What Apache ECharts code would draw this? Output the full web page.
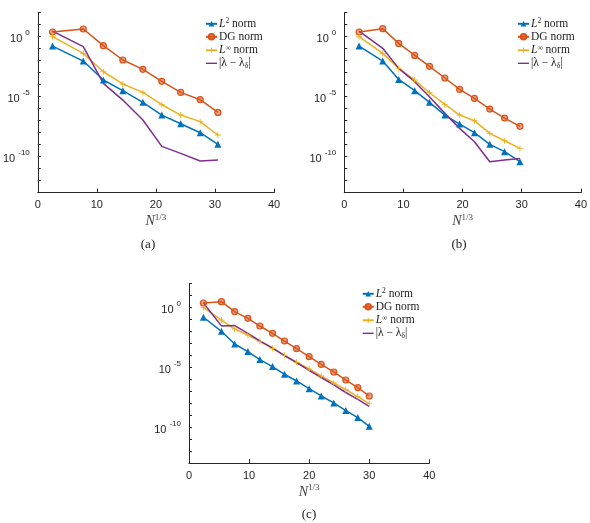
<!DOCTYPE html>
<html><head><meta charset="utf-8">
<script src="https://cdn.jsdelivr.net/npm/echarts@6/dist/echarts.min.js"></script>
<style>html,body{margin:0;padding:0;background:#fff}#c{width:590px;height:523px}</style>
</head><body><div id="c"></div>
<script>
// ---- data (y values are log10 of the error) ----
// panel (a)
const xA     = [2.5, 7.7, 11.1, 14.4, 17.8, 21.0, 24.2, 27.5, 30.5];
const A_L2   = [-0.78, -2.03, -3.61, -4.5, -5.47, -6.53, -7.25, -8.0, -8.97];
const A_DG   = [0.39, 0.64, -0.75, -1.94, -2.72, -3.72, -4.64, -5.25, -6.31];
const A_Linf = [0, -1.39, -2.92, -3.94, -4.64, -5.67, -6.53, -7.08, -8.19];
const A_lam  = [0.47, -0.83, -3.89, -5.28, -6.94, -9.14, -9.72, -10.36, -10.28];
// panel (b)
const xB     = [2.5, 6.5, 9.2, 11.9, 14.4, 17.0, 19.5, 22.0, 24.6, 27.1, 29.7];
const B_L2   = [-0.78, -2.03, -3.56, -4.5, -5.47, -6.53, -7.28, -8.0, -8.97, -9.58, -10.42];
const B_DG   = [0.39, 0.67, -0.56, -1.56, -2.47, -3.44, -4.39, -5.14, -6.03, -6.78, -7.47];
const B_Linf = [0, -1.39, -2.64, -3.61, -4.67, -5.64, -6.53, -7.0, -8.06, -8.67, -9.31];
const B_lam  = [0.47, -0.97, -2.64, -3.75, -5.0, -6.39, -7.64, -8.75, -10.42, -10.28, -10.14];
// panel (c)
const xC     = [2.4, 5.4, 7.6, 9.8, 11.8, 13.9, 15.9, 17.9, 20.0, 22.0, 24.1, 26.1, 28.1, 30.0];
const C_L2   = [-0.83, -2.0, -3.06, -3.69, -4.36, -4.94, -5.58, -6.14, -6.78, -7.39, -7.97, -8.61, -9.19, -9.92];
const C_DG   = [0.36, 0.47, -0.36, -0.92, -1.56, -2.17, -2.81, -3.44, -4.11, -4.75, -5.39, -6.06, -6.69, -7.39];
const C_Linf = [0, -1.06, -1.81, -2.31, -2.86, -3.42, -4.0, -4.58, -5.14, -5.72, -6.31, -6.86, -7.44, -8.03];
const C_lam  = [0.36, -1.55, -1.52, -2.17, -2.8, -3.38, -4.02, -4.6, -5.25, -5.85, -6.47, -7.1, -7.67, -8.25];

const seriesKeys = ['L2', 'DG', 'Linf', 'lam'];
const legendLabels = {
  L2: '{it|L}{sup|2}{t| norm}',
  DG: '{t|DG norm}',
  Linf: '{it|L}{sup|∞}{t| norm}',
  lam: '{t||λ − λ}{sub|δ}{t||}'
};
const yLabelExps = [0, -5, -10];
const xTicks = {min: 0, max: 40, interval: 10};
const yTicks = {min: -13, max: 2, interval: 1};
const captions = ['(a)', '(b)', '(c)'];

// ---- styling ----
const AX = '#262626';
const SERIF = '"Liberation Serif", "DejaVu Serif", serif';
const SANS = '"Liberation Sans", Arial, sans-serif';
const plusPath = 'path://M3.4,0H4.6V3.4H8V4.6H4.6V8H3.4V4.6H0V3.4H3.4Z';
const linePath = 'path://M0,0H12V1.5H0Z';
const STYLE = {
  L2:   {symbol: 'triangle', symbolSize: 7, color: '#0072BD', itemStyle: {color: '#0072BD'}},
  DG:   {symbol: 'circle', symbolSize: 6, color: '#D95319', itemStyle: {color: 'rgba(217,83,25,0.55)', borderColor: '#D95319', borderWidth: 1.2}},
  Linf: {symbol: plusPath, symbolSize: 6, color: '#EDB120', itemStyle: {color: '#EDB120'}},
  lam:  {symbol: 'none', symbolSize: 0, color: '#7E2F8E', itemStyle: {color: '#7E2F8E'}}
};
const panels = [
  {x: xA, ys: {L2: A_L2, DG: A_DG, Linf: A_Linf, lam: A_lam}, grid: {left: 32.3, top: 12.7, width: 241.7, height: 180}, legend: {left: 205, top: 17.3}, cap: [148, 245]},
  {x: xB, ys: {L2: B_L2, DG: B_DG, Linf: B_Linf, lam: B_lam}, grid: {left: 344.3, top: 12.7, width: 241.7, height: 180}, legend: {left: 517, top: 17.3}, cap: [459, 245]},
  {x: xC, ys: {L2: C_L2, DG: C_DG, Linf: C_Linf, lam: C_lam}, grid: {left: 189, top: 283.3, width: 240.3, height: 180}, legend: {left: 361.7, top: 287.3}, cap: [309, 515]}
];

const grids = [], xAxes = [], yAxes = [], series = [], legends = [], graphics = [];
panels.forEach((p, gi) => {
  grids.push(Object.assign({containLabel: false}, p.grid));
  xAxes.push({
    type: 'value', gridIndex: gi, min: xTicks.min, max: xTicks.max, interval: xTicks.interval,
    axisLine: {show: true, onZero: false, lineStyle: {color: AX, width: 1}},
    axisTick: {show: true, inside: true, length: 4, lineStyle: {color: AX}},
    axisLabel: {margin: 7, fontSize: 11, color: AX, fontFamily: SANS},
    splitLine: {show: false},
    name: '{it|N}{sup|1/3}', nameLocation: 'middle', nameGap: 20,
    nameTextStyle: {rich: {
      it: {fontFamily: SERIF, fontStyle: 'italic', fontSize: 14, color: '#444', lineHeight: 16, verticalAlign: 'bottom'},
      sup: {fontFamily: SERIF, fontSize: 9, color: '#444', lineHeight: 8, verticalAlign: 'top'}
    }}
  });
  yAxes.push({
    type: 'value', gridIndex: gi, min: yTicks.min, max: yTicks.max, interval: yTicks.interval,
    axisLine: {show: true, onZero: false, lineStyle: {color: AX, width: 1}},
    axisTick: {show: true, inside: true, length: 3, lineStyle: {color: AX}},
    axisLabel: {
      margin: 8, color: AX,
      formatter: v => {
        const k = Math.round(v);
        if (yLabelExps.indexOf(k) < 0) return '';
        return '{b|10}{s|' + (k === 0 ? '0' : '-' + (-k)) + '}';
      },
      rich: {
        b: {fontFamily: SANS, fontSize: 11, color: AX, lineHeight: 16, verticalAlign: 'bottom'},
        s: {fontFamily: SANS, fontSize: 8, color: AX, lineHeight: 7, verticalAlign: 'top', padding: [0, 0, 0, 3]}
      }
    },
    splitLine: {show: false}
  });
  seriesKeys.forEach(k => {
    const st = STYLE[k];
    series.push({
      type: 'line', name: k, xAxisIndex: gi, yAxisIndex: gi,
      data: p.x.map((xv, i) => [xv, p.ys[k][i]]),
      symbol: st.symbol, symbolSize: st.symbolSize, showSymbol: st.symbol !== 'none',
      lineStyle: {color: st.color, width: 1.5},
      itemStyle: st.itemStyle,
      emphasis: {disabled: true}, silent: true, z: 2
    });
  });
  legends.push({
    orient: 'vertical', left: p.legend.left, top: p.legend.top,
    data: seriesKeys.map(k => k === 'lam' ? {name: k, icon: linePath} : {name: k}),
    itemWidth: 11, itemHeight: 7, itemGap: 1, padding: 0,
    formatter: name => legendLabels[name],
    textStyle: {padding: [0, 0, 0, -3], rich: {
      t: {fontFamily: SERIF, fontSize: 11.5, color: '#222', lineHeight: 13},
      it: {fontFamily: SERIF, fontStyle: 'italic', fontSize: 11.5, color: '#222', lineHeight: 13},
      sup: {fontFamily: SERIF, fontSize: 7.5, color: '#222', lineHeight: 7, verticalAlign: 'top'},
      sub: {fontFamily: SERIF, fontSize: 7.5, color: '#222', lineHeight: 7, verticalAlign: 'bottom'}
    }},
    selectedMode: false
  });
  graphics.push({
    type: 'text', x: p.cap[0], y: p.cap[1],
    style: {text: captions[gi], font: '13px ' + SERIF, fill: '#222', align: 'center', verticalAlign: 'middle'}
  });
});

const chart = echarts.init(document.getElementById('c'), null, {renderer: 'canvas'});
chart.setOption({
  animation: false,
  backgroundColor: '#fff',
  grid: grids, xAxis: xAxes, yAxis: yAxes, series: series, legend: legends, graphic: graphics
});
</script>
</body></html>
